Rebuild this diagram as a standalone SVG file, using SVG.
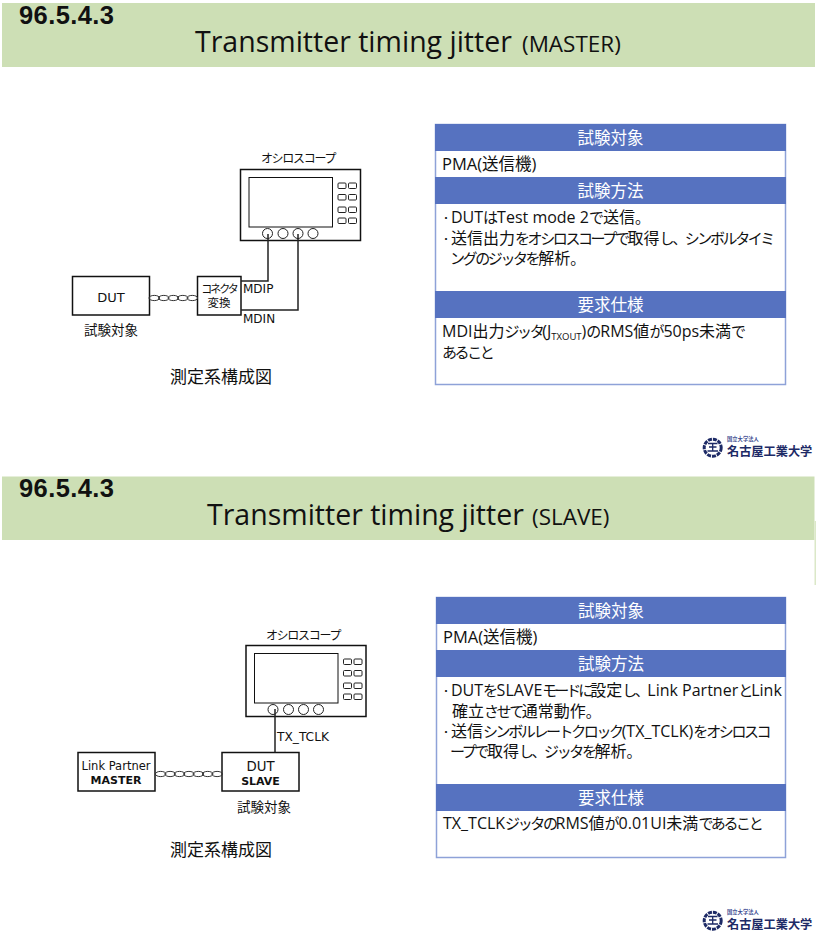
<svg xmlns="http://www.w3.org/2000/svg" width="818" height="944" viewBox="0 0 818 944">
<style>
text{font-family:"Open Sans","Noto Sans CJK JP",sans-serif;fill:#111}
.d{font-family:"DejaVu Sans","Noto Sans CJK JP",sans-serif}
.num{font-family:"Liberation Sans",sans-serif;font-size:25.500px;font-weight:700;letter-spacing:.4px}
.band{fill:#cddfb5}
.hd{fill:#5672c0}
.hdt{fill:#fff;font-size:16.500px;text-anchor:middle;font-family:"Noto Sans CJK JP",sans-serif}
.tb{fill:#fff;stroke:#8ea2d8;stroke-width:1.500}
.s{fill:#fff;stroke:#111;stroke-width:1.500}
.b{fill:#fff;stroke:#222;stroke-width:1}
.w{fill:none;stroke:#222;stroke-width:1.500}
.tw{fill:none;stroke:#333;stroke-width:1}
.t{font-size:16px}
.p{font-size:16.500px}
.dot{font-size:10px}
.k{font-size:15px;letter-spacing:-2.400px}
.k1{font-size:15px;letter-spacing:-1px}
.l{font-size:12px}
.logo{fill:#1d2a66;font-weight:700;font-family:"Noto Sans CJK JP",sans-serif}
.ls{fill:none;stroke:#1d2a66}
</style>
<defs>
<g id="scope">
<rect class="s" width="120" height="71"/>
<rect class="s" x="8.500" y="8" width="83.500" height="49.500" style="stroke-width:1"/>
<rect class="b" x="97.500" y="13.500" width="8" height="5.500" rx="1"/><rect class="b" x="108" y="13.500" width="8" height="5.500" rx="1"/>
<rect class="b" x="97.500" y="25" width="8" height="5.500" rx="1"/><rect class="b" x="108" y="25" width="8" height="5.500" rx="1"/>
<rect class="b" x="97.500" y="37.500" width="8" height="5.500" rx="1"/><rect class="b" x="108" y="37.500" width="8" height="5.500" rx="1"/>
<rect class="b" x="97.500" y="48.500" width="8" height="5.500" rx="1"/><rect class="b" x="108" y="48.500" width="8" height="5.500" rx="1"/>
<circle class="b" cx="27" cy="64" r="5"/><circle class="b" cx="42.500" cy="64" r="5"/><circle class="b" cx="57.500" cy="64" r="5"/><circle class="b" cx="72.500" cy="64" r="5"/>
</g>
<ellipse id="e" class="tw" rx="5.300" ry="2.600"/>
<g id="logo">
<circle class="ls" cx="712.700" cy="447.700" r="8.500" stroke-width="3" stroke-dasharray="4 1"/>
<path class="ls" stroke-width="1.300" d="M708 443.500H717.500M709 447H716.500M707.500 451H718M712.700 443.500V451"/>
<text class="logo" x="727" y="441" font-size="5.300" font-weight="400" style="fill:#3a4a90">国立大学法人</text>
<text class="logo" x="727" y="455.700" font-size="12.200">名古屋工業大学</text>
</g>
</defs>

<g id="slide1-title">
<rect class="band" x="2" y="3" width="813" height="64"/>
<text class="num" x="19" y="23.500">96.5.4.3</text>
<text x="195" y="52" font-size="28.500">Transmitter timing jitter <tspan font-size="22.500" x="522">(MASTER)</tspan></text>
</g>
<g id="scope1"><use href="#scope" x="240.500" y="169.500"/><text class="d" x="298" y="163" font-size="12" letter-spacing="-1.300" text-anchor="middle">オシロスコープ</text></g>
<g id="dut1"><rect class="s" x="72.500" y="276.500" width="77" height="38.500"/><text class="d" x="111" y="302" font-size="13" text-anchor="middle">DUT</text></g>
<g id="conv"><rect class="s" x="197.500" y="276.500" width="43.500" height="38.500"/><text class="d" x="219" y="293" font-size="11" letter-spacing="-2" text-anchor="middle">コネクタ</text><text class="d" x="219" y="307" font-size="11.500" text-anchor="middle">変換</text></g>
<g id="connectors1">
<path class="w" d="M241 281H268V234M241 310H298V234"/>
<use href="#e" x="154.300" y="298"/><use href="#e" x="163.800" y="298"/><use href="#e" x="173.300" y="298"/><use href="#e" x="182.800" y="298"/><use href="#e" x="192.300" y="298"/>
</g>
<text class="d l" x="243" y="293">MDIP</text>
<text class="d l" x="243" y="323">MDIN</text>
<text class="d" x="111" y="335" font-size="13.500" text-anchor="middle">試験対象</text>
<text class="d" x="221" y="383" font-size="17" text-anchor="middle">測定系構成図</text>

<g id="table1">
<rect class="tb" x="435.500" y="124.500" width="350" height="260"/>
<rect class="hd" x="435" y="124" width="351" height="27"/><text class="hdt" x="610.500" y="144">試験対象</text>
<text class="p" x="442" y="170">PMA(送信機)</text>
<rect class="hd" x="435" y="177" width="351" height="27"/><text class="hdt" x="610.500" y="197">試験方法</text>
<text class="dot" x="441" y="222">・</text><text class="t" x="451" y="223">DUT<tspan class="k1">は</tspan>Test mode 2<tspan class="k1">で</tspan>送信<tspan class="k1">。</tspan></text>
<text class="dot" x="441" y="243">・</text><text class="t" x="451" y="244">送信出力<tspan class="k">をオシロスコープで</tspan>取得<tspan class="k">し、シンボルタイミ</tspan></text>
<text class="t" x="450" y="264"><tspan class="k">ングのジッタを</tspan>解析<tspan class="k">。</tspan></text>
<rect class="hd" x="435" y="291" width="351" height="27"/><text class="hdt" x="610.500" y="311">要求仕様</text>
<text class="t" x="442" y="337">MDI出力<tspan class="k">ジッタ</tspan>(J<tspan font-size="9.500" dy="3">TXOUT</tspan><tspan dy="-3">)</tspan><tspan class="k1">の</tspan>RMS値<tspan class="k1">が</tspan>50ps未満<tspan class="k1">で</tspan></text>
<text class="t" x="442" y="358"><tspan class="k">あること</tspan></text>
</g>
<use id="logo1" href="#logo"/>

<g id="slide2-title">
<rect class="band" x="2" y="476.500" width="812.500" height="63.500"/>
<rect x="814.500" y="521" width="1.500" height="64" fill="#dbe8c8"/>
<text class="num" x="19" y="497">96.5.4.3</text>
<text x="207" y="525" font-size="28.500">Transmitter timing jitter <tspan font-size="22.500" x="532">(SLAVE)</tspan></text>
</g>
<g id="scope2"><use href="#scope" x="246" y="645.500"/><text class="d" x="303" y="640" font-size="12" letter-spacing="-1.300" text-anchor="middle">オシロスコープ</text></g>
<g id="lp"><rect class="s" x="78" y="752.500" width="77" height="38.500"/><text class="d" x="116" y="769.500" font-size="11.500" text-anchor="middle">Link Partner</text><text class="d" x="116" y="784" font-size="11" font-weight="700" text-anchor="middle">MASTER</text></g>
<g id="dut2"><rect class="s" x="222" y="752.500" width="77" height="38.500"/><text class="d" x="260.500" y="770.500" font-size="13.300" text-anchor="middle">DUT</text><text class="d" x="260.500" y="785" font-size="11" font-weight="700" text-anchor="middle">SLAVE</text></g>
<g id="connectors2">
<path class="w" d="M275 709V752.500"/>
<use href="#e" x="160.700" y="774"/><use href="#e" x="170.100" y="774"/><use href="#e" x="179.500" y="774"/><use href="#e" x="188.900" y="774"/><use href="#e" x="198.300" y="774"/><use href="#e" x="207.700" y="774"/><use href="#e" x="217.100" y="774"/>
</g>
<text class="d" x="277" y="741" font-size="12.200">TX_TCLK</text>
<text class="d" x="264" y="812" font-size="13.500" text-anchor="middle">試験対象</text>
<text class="d" x="221" y="856" font-size="17" text-anchor="middle">測定系構成図</text>

<g id="table2">
<rect class="tb" x="436.500" y="597.500" width="349" height="260"/>
<rect class="hd" x="436" y="597" width="350" height="27"/><text class="hdt" x="611" y="617">試験対象</text>
<text class="p" x="443" y="643">PMA(送信機)</text>
<rect class="hd" x="436" y="650" width="350" height="27"/><text class="hdt" x="611" y="670">試験方法</text>
<text class="dot" x="441" y="695">・</text><text class="t" x="451" y="696">DUT<tspan class="k1" style="letter-spacing:-1.500px">を</tspan>SLAVE<tspan class="k" style="letter-spacing:-3px">モードに</tspan>設定<tspan class="k" style="letter-spacing:-2.500px">し、</tspan>Link Partner<tspan class="k1" style="letter-spacing:-2px">と</tspan>Link</text>
<text class="t" x="452" y="717">確立<tspan class="k">させて</tspan>通常動作<tspan class="k">。</tspan></text>
<text class="dot" x="441" y="736">・</text><text class="t" x="451" y="737">送信<tspan class="k">シンボルレートクロック</tspan>(TX_TCLK)<tspan class="k1" style="letter-spacing:-2px">を</tspan><tspan class="k">オシロスコ</tspan></text>
<text class="t" x="450" y="757"><tspan class="k">ープで</tspan>取得<tspan class="k">し、ジッタを</tspan>解析<tspan class="k">。</tspan></text>
<rect class="hd" x="436" y="784" width="350" height="27"/><text class="hdt" x="611" y="804">要求仕様</text>
<text class="t" x="443" y="829">TX_TCLK<tspan class="k">ジッタの</tspan>RMS値<tspan class="k1">が</tspan>0.01UI未満<tspan class="k">であること</tspan></text>
</g>
<use id="logo2" href="#logo" y="473"/>
</svg>
